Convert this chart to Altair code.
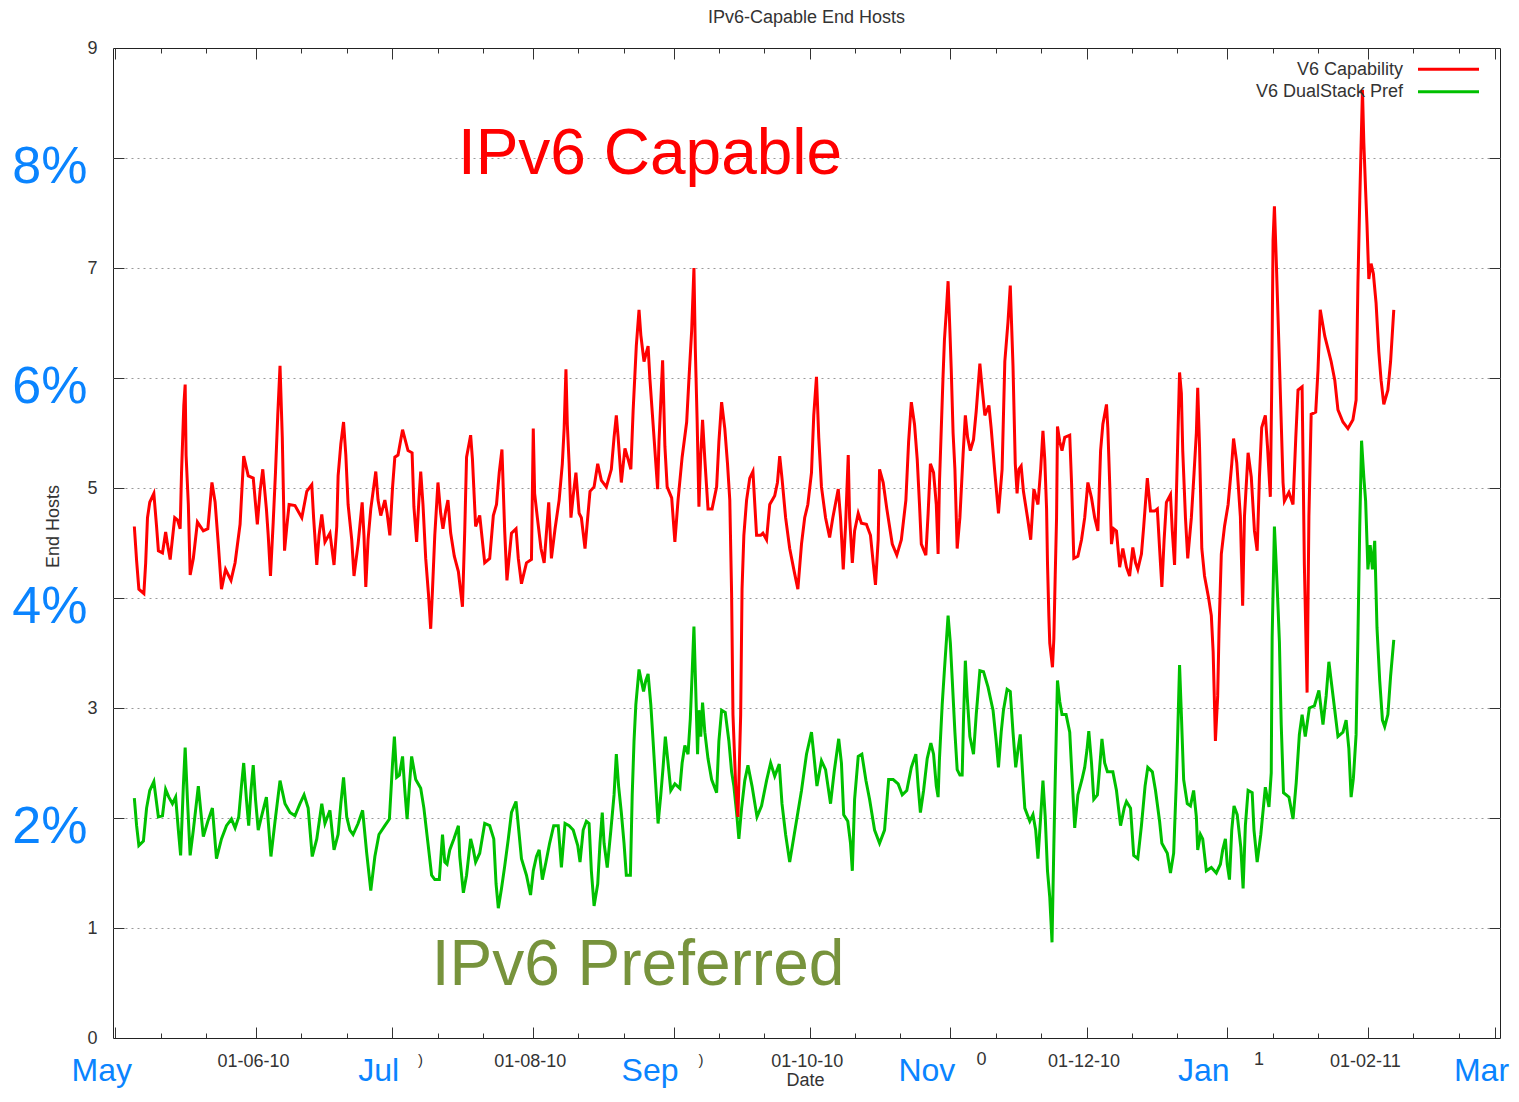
import altair as alt
import pandas as pd

FONT = "Liberation Sans"
INK = "#333333"
RED = "#ff0000"
GREEN = "#00c000"
BLUE = "#0a84ff"
OLIVE = "#77933c"

START = "2010-05-01"          # day 0 of the day offsets below
DAY_MS = 86400000

# ---- V6 Capability (percent of end hosts), day offset from 1 May 2010 ----
red_day = [4.2, 4.7, 5.2, 6.3, 6.7, 7.1, 7.6, 8.5, 9.1, 9.5, 10.4, 11.1, 11.5, 12.1, 13.1, 13.7, 14.3, 14.6, 15.1, 15.4,
           15.6, 16.1, 16.5, 17.2, 18.1, 19.4, 20.4, 21.3, 22.0, 22.7, 23.4, 24.3, 25.5, 26.4, 27.5, 28.3, 29.3, 30.4, 31.3, 31.9,
           32.5, 33.3, 33.7, 34.2, 34.8, 35.3, 35.8, 36.3, 36.8, 37.3, 37.8, 38.3, 39.6, 41.1, 42.2, 43.3, 43.7, 44.4, 44.9, 45.5,
           46.2, 47.3, 48.2, 48.8, 49.1, 49.7, 50.3, 50.8, 51.3, 52.1, 52.6, 53.5, 54.4, 54.8, 55.2, 55.7, 56.3, 57.4, 57.9, 58.5,
           59.4, 59.9, 60.5, 61.1, 61.6, 62.3, 63.3, 64.5, 65.4, 65.8, 66.4, 66.9, 67.3, 67.8, 68.4, 69.0, 69.5, 69.9, 70.4, 71.1,
           71.7, 72.2, 72.8, 73.3, 73.9, 74.7, 75.6, 76.5, 77.0, 77.4, 78.3, 78.7, 79.4, 80.3, 81.4, 82.5, 83.3, 84.0, 84.6, 85.2,
           85.8, 86.3, 87.3, 88.3, 88.8, 89.5, 90.6, 91.7, 92.1, 92.4, 93.0, 93.8, 94.5, 95.5, 96.1, 96.9, 97.8, 98.5, 98.9, 99.3,
           99.6, 100.0, 100.4, 100.9, 101.5, 102.2, 102.7, 103.5, 104.6, 105.5, 106.3, 107.1, 108.2, 109.3, 109.9, 110.4, 110.8, 111.5, 112.3, 113.0,
           113.6, 114.1, 114.8, 115.4, 115.8, 116.5, 117.4, 117.8, 118.5, 119.5, 119.8, 120.6, 121.1, 121.6, 122.6, 123.3, 124.0, 124.9, 125.9, 126.4,
           127.0, 127.5, 127.8, 128.2, 128.6, 129.0, 129.4, 129.9, 130.6, 131.5, 132.5, 133.0, 133.6, 134.3, 134.9, 135.4, 135.8, 136.1, 136.7, 137.2,
           137.8, 138.1, 138.5, 139.1, 139.8, 140.5, 141.3, 142.2, 142.7, 143.5, 144.2, 145.3, 145.9, 146.4, 146.9, 147.7, 148.6, 149.6, 150.4, 151.2,
           151.9, 152.6, 153.4, 153.9, 154.5, 155.0, 155.6, 156.5, 157.4, 158.1, 159.3, 159.8, 160.4, 160.9, 161.5, 161.8, 162.4, 162.9, 163.7, 164.4,
           165.5, 166.4, 167.0, 167.5, 168.1, 168.4, 169.2, 170.0, 171.2, 172.2, 173.2, 174.2, 174.8, 175.4, 176.1, 176.7, 177.2, 177.6, 178.6, 179.1,
           179.6, 180.3, 180.9, 181.3, 181.6, 182.0, 182.4, 182.7, 183.1, 183.5, 183.9, 184.2, 184.6, 185.0, 185.5, 186.1, 186.8, 187.3, 187.8, 188.4,
           189.1, 189.7, 190.5, 191.0, 191.6, 192.5, 193.0, 193.8, 194.6, 195.4, 196.0, 196.7, 197.2, 197.8, 198.3, 198.7, 199.1, 199.6, 200.1, 201.0,
           201.7, 202.4, 203.3, 203.9, 204.4, 204.8, 205.2, 205.4, 205.7, 205.9, 206.5, 206.8, 207.1, 207.4, 207.6, 208.1, 208.6, 209.2, 210.3, 210.7,
           211.2, 212.1, 212.9, 213.6, 214.3, 215.1, 215.8, 216.5, 217.1, 217.6, 218.4, 218.7, 219.1, 219.5, 220.0, 220.6, 221.3, 222.0, 222.8, 223.5,
           224.2, 224.8, 225.3, 226.1, 226.6, 227.4, 228.1, 229.0, 229.6, 230.1, 230.6, 231.1, 231.6, 232.5, 232.9, 233.4, 233.8, 234.1, 234.5, 234.9,
           235.2, 235.8, 236.3, 237.1, 237.7, 238.2, 238.5, 238.9, 239.4, 240.0, 240.9, 241.5, 241.9, 242.4, 242.9, 243.2, 243.7, 244.4, 245.2, 246.0,
           246.4, 247.1, 247.9, 248.4, 248.8, 249.6, 250.3, 251.0, 251.6, 252.1, 252.6, 253.4, 253.9, 254.5, 254.8, 255.1, 255.4, 255.8, 256.5, 257.3,
           257.6, 258.6, 259.5, 260.1, 260.6, 261.5, 262.0, 262.6, 263.0, 263.5, 264.5, 265.0, 265.5, 266.5, 267.9, 268.7, 269.4, 270.5, 271.6, 272.7,
           273.4, 273.8, 274.2, 274.8, 275.1, 275.5, 275.8, 276.2, 276.7, 277.2, 277.8, 278.4, 278.9, 279.5, 280.4, 281.0, 281.7]
red_val = [4.65, 4.34, 4.08, 4.04, 4.32, 4.73, 4.87, 4.95, 4.65, 4.43, 4.41, 4.60, 4.49, 4.35, 4.73, 4.71, 4.63, 5.14, 5.75, 5.94,
           5.30, 4.85, 4.21, 4.36, 4.69, 4.61, 4.63, 5.05, 4.87, 4.49, 4.08, 4.26, 4.16, 4.32, 4.67, 5.29, 5.11, 5.09, 4.67, 4.97,
           5.17, 4.81, 4.57, 4.20, 4.69, 5.14, 5.66, 6.11, 5.46, 4.43, 4.65, 4.85, 4.84, 4.73, 4.97, 5.03, 4.73, 4.30, 4.57, 4.76,
           4.51, 4.59, 4.30, 4.65, 5.11, 5.40, 5.60, 5.30, 4.85, 4.53, 4.20, 4.49, 4.87, 4.57, 4.10, 4.53, 4.81, 5.15, 4.89, 4.75,
           4.89, 4.77, 4.57, 5.01, 5.28, 5.30, 5.53, 5.34, 5.32, 4.83, 4.51, 4.89, 5.15, 4.85, 4.36, 4.04, 3.72, 4.08, 4.57, 5.05,
           4.77, 4.63, 4.79, 4.89, 4.59, 4.38, 4.24, 3.92, 4.61, 5.28, 5.48, 5.26, 4.65, 4.75, 4.32, 4.36, 4.75, 4.85, 5.14, 5.35,
           4.61, 4.16, 4.59, 4.63, 4.36, 4.13, 4.32, 4.35, 5.54, 4.95, 4.73, 4.45, 4.32, 4.87, 4.36, 4.63, 4.89, 5.22, 5.54, 6.08,
           5.58, 5.22, 4.73, 4.93, 5.14, 4.77, 4.73, 4.45, 4.97, 5.01, 5.22, 5.07, 5.01, 5.17, 5.46, 5.66, 5.46, 5.05, 5.36, 5.26,
           5.17, 5.70, 6.29, 6.62, 6.39, 6.15, 6.29, 5.99, 5.58, 4.99, 5.42, 6.16, 5.38, 5.01, 4.91, 4.51, 4.89, 5.28, 5.60, 5.99,
           6.43, 7.00, 6.27, 5.62, 4.83, 5.30, 5.62, 5.26, 4.81, 4.81, 5.01, 5.42, 5.78, 5.54, 5.22, 4.89, 4.04, 2.94, 2.29, 2.01,
           2.94, 4.08, 4.57, 4.89, 5.09, 5.15, 4.57, 4.57, 4.59, 4.53, 4.85, 4.93, 5.05, 5.29, 5.09, 4.73, 4.45, 4.24, 4.08, 4.49,
           4.73, 4.85, 5.14, 5.66, 6.01, 5.46, 5.01, 4.73, 4.55, 4.73, 4.99, 4.73, 4.26, 4.65, 5.30, 4.73, 4.32, 4.61, 4.77, 4.68,
           4.67, 4.57, 4.32, 4.12, 4.53, 5.17, 5.05, 4.81, 4.49, 4.39, 4.53, 4.89, 5.42, 5.78, 5.58, 5.26, 4.85, 4.49, 4.39, 4.77,
           5.22, 5.14, 4.85, 4.40, 5.05, 5.54, 6.03, 6.35, 6.60, 6.88, 6.43, 6.07, 5.50, 5.17, 4.45, 4.73, 5.30, 5.66, 5.46, 5.34,
           5.44, 5.70, 6.13, 5.91, 5.66, 5.75, 5.54, 5.14, 4.77, 5.17, 6.15, 6.51, 6.84, 6.11, 5.22, 4.95, 5.17, 5.20, 4.97, 4.73,
           4.53, 4.99, 4.85, 5.17, 5.52, 5.26, 4.81, 4.32, 3.84, 3.59, 3.37, 3.63, 4.20, 4.73, 5.56, 5.42, 5.34, 5.46, 5.48, 5.05,
           4.36, 4.38, 4.53, 4.73, 5.05, 4.91, 4.73, 4.61, 5.34, 5.58, 5.76, 5.54, 5.05, 4.49, 4.63, 4.61, 4.28, 4.45, 4.28, 4.20,
           4.46, 4.32, 4.26, 4.40, 4.65, 5.09, 4.79, 4.79, 4.81, 4.45, 4.10, 4.53, 4.87, 4.94, 4.61, 4.30, 4.93, 5.42, 6.05, 5.86,
           5.34, 4.73, 4.36, 4.73, 5.14, 5.50, 5.91, 5.38, 4.45, 4.20, 4.00, 3.84, 3.51, 2.70, 3.11, 3.71, 4.40, 4.65, 4.85, 5.22,
           5.45, 5.23, 4.74, 3.93, 4.74, 5.32, 5.10, 4.61, 4.43, 5.10, 5.55, 5.66, 5.36, 4.92, 5.89, 7.25, 7.56, 7.08, 6.15, 5.05,
           4.88, 4.96, 4.85, 5.45, 5.89, 5.92, 4.30, 3.14, 4.74, 5.67, 5.69, 6.07, 6.62, 6.38, 6.15, 5.98, 5.71, 5.60, 5.54, 5.62,
           5.80, 6.86, 7.61, 8.62, 8.14, 7.70, 7.39, 6.90, 7.04, 6.95, 6.68, 6.24, 5.98, 5.76, 5.89, 6.15, 6.62]

# ---- V6 DualStack Pref (percent of end hosts), day offset from 1 May 2010 ----
green_day = [4.2, 4.7, 5.2, 6.2, 6.9, 7.6, 8.5, 9.5, 10.4, 11.1, 11.8, 12.6, 13.3, 13.9, 14.4, 15.0, 15.4, 15.9, 16.5, 17.2,
             18.3, 19.4, 20.4, 21.4, 22.3, 23.4, 24.5, 25.6, 26.4, 27.2, 27.8, 28.3, 28.9, 29.4, 29.9, 30.4, 30.9, 31.5, 32.2, 33.3,
             34.3, 35.2, 36.3, 37.4, 38.5, 39.6, 40.7, 41.6, 42.5, 43.4, 44.4, 45.5, 46.2, 47.3, 48.2, 49.1, 49.7, 50.3, 51.0, 51.7,
             52.4, 53.5, 54.5, 55.4, 56.3, 57.2, 58.1, 59.4, 60.4, 61.1, 61.5, 62.0, 62.6, 63.3, 63.8, 64.3, 64.8, 65.3, 66.2, 67.3,
             68.0, 68.9, 69.7, 70.4, 71.4, 72.1, 72.6, 73.1, 73.7, 74.6, 75.6, 75.9, 76.7, 77.4, 78.3, 78.9, 79.4, 80.3, 81.4, 82.5,
             83.4, 83.9, 84.4, 85.1, 85.8, 86.6, 87.3, 88.3, 88.9, 89.5, 90.6, 91.5, 92.1, 92.8, 93.4, 94.1, 94.9, 95.7, 96.6, 97.6,
             98.3, 99.1, 100.0, 100.9, 101.9, 102.4, 103.1, 103.8, 104.4, 104.9, 105.5, 106.3, 106.8, 107.3, 107.7, 108.4, 109.2, 109.9, 110.4, 110.9,
             111.5, 112.1, 112.6, 113.5, 113.9, 114.3, 114.7, 115.4, 115.9, 116.4, 116.9, 117.4, 118.0, 118.5, 119.1, 119.6, 120.2, 120.7, 121.2, 121.8,
             122.4, 123.3, 124.4, 124.9, 125.5, 126.2, 126.7, 127.1, 127.5, 127.8, 128.3, 128.6, 129.0, 129.4, 129.9, 130.6, 131.4, 132.5, 133.0, 133.6,
             134.4, 135.2, 135.8, 136.3, 136.9, 137.4, 138.0, 138.7, 139.4, 140.3, 141.4, 142.4, 143.5, 144.4, 145.3, 146.3, 146.9, 147.7, 148.6, 149.6,
             150.4, 151.2, 152.3, 153.4, 154.1, 154.6, 155.6, 156.5, 157.6, 158.4, 159.4, 160.0, 160.5, 161.4, 162.0, 162.4, 162.9, 163.7, 164.5, 165.4,
             166.2, 167.3, 168.4, 169.5, 170.4, 171.4, 172.5, 173.4, 174.4, 175.4, 176.4, 176.9, 177.4, 178.1, 178.9, 179.7, 180.3, 180.9, 181.3, 181.6,
             182.2, 182.7, 183.5, 184.0, 184.4, 185.0, 185.5, 186.1, 186.6, 186.9, 187.3, 187.7, 188.3, 189.1, 189.7, 190.5, 191.3, 192.3, 193.4, 194.1,
             194.6, 195.2, 195.7, 196.5, 197.2, 197.8, 198.4, 198.9, 199.4, 199.9, 200.4, 201.5, 202.2, 202.8, 203.3, 203.9, 204.4, 204.9, 205.4, 205.9,
             206.4, 206.8, 207.1, 207.6, 208.1, 208.6, 209.5, 210.3, 210.7, 211.4, 212.1, 213.0, 213.6, 214.1, 214.5, 215.1, 215.6, 216.4, 216.9, 217.4,
             218.0, 218.6, 219.8, 220.6, 221.5, 222.3, 222.8, 223.7, 224.4, 225.3, 226.1, 226.9, 227.5, 228.5, 229.2, 230.1, 230.6, 231.8, 232.5, 233.2,
             233.8, 234.1, 234.5, 234.9, 235.4, 236.2, 236.9, 237.6, 238.2, 238.5, 239.1, 239.6, 240.4, 241.5, 242.6, 243.5, 244.0, 244.6, 245.0, 245.5,
             246.0, 246.5, 247.2, 248.0, 248.5, 249.0, 249.6, 250.5, 250.9, 251.6, 252.4, 253.4, 254.2, 254.7, 254.9, 255.4, 255.8, 256.2, 256.5, 256.9,
             257.4, 258.6, 259.5, 260.2, 260.9, 261.5, 262.2, 263.1, 264.2, 265.2, 266.1, 266.8, 267.4, 267.9, 268.7, 269.4, 270.5, 271.2, 271.8, 272.3,
             272.8, 273.4, 273.8, 274.2, 274.6, 275.1, 275.5, 276.0, 276.5, 277.0, 277.5, 278.0, 278.6, 279.2, 279.7, 280.4, 281.0, 281.7]
green_val = [2.18, 1.93, 1.75, 1.79, 2.09, 2.25, 2.33, 2.01, 2.02, 2.26, 2.19, 2.13, 2.19, 1.89, 1.66, 2.29, 2.64, 2.17, 1.66, 1.89,
             2.29, 1.83, 1.97, 2.09, 1.63, 1.81, 1.93, 1.99, 1.91, 2.01, 2.29, 2.50, 2.17, 1.93, 2.25, 2.48, 2.17, 1.89, 2.01, 2.19,
             1.65, 1.97, 2.34, 2.13, 2.05, 2.02, 2.13, 2.21, 2.09, 1.65, 1.81, 2.13, 1.95, 2.07, 1.71, 1.85, 2.13, 2.37, 2.01, 1.89,
             1.85, 1.95, 2.07, 1.68, 1.34, 1.65, 1.85, 1.93, 1.99, 2.50, 2.74, 2.37, 2.39, 2.56, 2.25, 1.99, 2.29, 2.56, 2.35, 2.27,
             2.09, 1.77, 1.48, 1.44, 1.44, 1.85, 1.60, 1.58, 1.71, 1.81, 1.93, 1.65, 1.32, 1.48, 1.81, 1.71, 1.60, 1.68, 1.95, 1.93,
             1.81, 1.40, 1.18, 1.36, 1.56, 1.81, 2.05, 2.15, 1.89, 1.63, 1.48, 1.30, 1.52, 1.65, 1.71, 1.44, 1.60, 1.77, 1.93, 1.93,
             1.55, 1.95, 1.93, 1.89, 1.75, 1.60, 1.89, 1.97, 1.95, 1.52, 1.20, 1.40, 1.77, 2.05, 1.77, 1.55, 1.89, 2.21, 2.58, 2.29,
             2.05, 1.77, 1.48, 1.48, 2.21, 2.70, 3.03, 3.35, 3.25, 3.15, 3.25, 3.31, 3.03, 2.70, 2.29, 1.95, 2.21, 2.46, 2.74, 2.50,
             2.25, 2.31, 2.27, 2.50, 2.66, 2.58, 2.90, 3.31, 3.74, 3.31, 2.58, 2.98, 2.74, 3.05, 2.78, 2.54, 2.35, 2.23, 2.70, 2.98,
             2.96, 2.70, 2.42, 2.29, 2.05, 1.81, 2.09, 2.34, 2.48, 2.29, 2.01, 2.11, 2.34, 2.50, 2.38, 2.49, 2.13, 1.85, 1.60, 1.85,
             2.05, 2.25, 2.58, 2.78, 2.50, 2.29, 2.52, 2.44, 2.13, 2.42, 2.72, 2.50, 2.03, 1.97, 1.77, 1.52, 2.17, 2.56, 2.58, 2.34,
             2.17, 1.89, 1.77, 1.89, 2.35, 2.35, 2.31, 2.21, 2.25, 2.46, 2.58, 2.29, 2.05, 2.25, 2.54, 2.68, 2.58, 2.29, 2.19, 2.54,
             3.03, 3.35, 3.84, 3.59, 3.27, 2.78, 2.44, 2.39, 2.39, 2.90, 3.43, 3.11, 2.74, 2.58, 2.94, 3.34, 3.33, 3.19, 2.98, 2.70,
             2.46, 2.78, 2.98, 3.17, 3.15, 2.78, 2.46, 2.62, 2.76, 2.42, 2.09, 1.97, 2.03, 1.89, 1.63, 2.01, 2.34, 2.01, 1.52, 1.28,
             0.87, 1.75, 2.34, 3.25, 3.06, 2.94, 2.94, 2.78, 2.46, 1.91, 2.21, 2.35, 2.46, 2.62, 2.79, 2.50, 2.17, 2.21, 2.46, 2.72,
             2.50, 2.42, 2.42, 2.25, 1.93, 2.09, 2.15, 2.09, 1.66, 1.63, 1.93, 2.29, 2.46, 2.42, 2.25, 1.97, 1.77, 1.68, 1.50, 1.68,
             2.34, 2.78, 3.39, 2.94, 2.35, 2.13, 2.11, 2.25, 2.01, 1.71, 1.85, 1.81, 1.52, 1.55, 1.50, 1.58, 1.71, 1.81, 1.58, 1.44,
             1.89, 2.11, 2.03, 1.73, 1.36, 1.93, 2.25, 2.23, 1.89, 1.60, 1.85, 2.28, 2.10, 2.41, 3.64, 4.65, 4.30, 3.91, 3.60, 2.85,
             2.23, 2.19, 1.99, 2.32, 2.76, 2.94, 2.74, 3.00, 3.02, 3.16, 2.85, 3.11, 3.42, 3.25, 2.98, 2.74, 2.78, 2.89, 2.63, 2.19,
             2.36, 2.76, 3.64, 4.65, 5.43, 5.10, 4.88, 4.26, 4.48, 4.26, 4.52, 3.73, 3.25, 2.89, 2.83, 2.94, 3.29, 3.62]

series_names = ["V6 Capability", "V6 DualStack Pref"]
x_range = ["2010-04-30 12:00", "2011-03-02 02:30"]
y_range = [0, 9]
month_starts = pd.date_range("2010-05-01", "2011-03-01", freq="MS")


def ms(ts):
    return int(pd.Timestamp(ts).value // 1_000_000)


start_ms = ms(START)
red_df = pd.DataFrame({"t": [start_ms + round(d * DAY_MS) for d in red_day], "v": red_val})
green_df = pd.DataFrame({"t": [start_ms + round(d * DAY_MS) for d in green_day], "v": green_val})

major_ms = [ms(m) for m in month_starts]
minor_ms = [ms(m + pd.Timedelta(days=k)) for m in month_starts[:-1] for k in (10, 20)]
small_lbl_ms = [ms(m) for m in month_starts if m.month % 2 == 0]
big_a_ms = [ms(m) for m in month_starts if m.month in (5, 7, 3)]
big_b_ms = [ms(m) for m in month_starts if m.month in (9, 11, 1)]

xs = alt.Scale(type="utc", domain=[ms(x_range[0]), ms(x_range[1])], nice=False)
ys = alt.Scale(domain=y_range, nice=False, zero=False)


def tick_axis(orient, values, size):
    return alt.Axis(orient=orient, values=values, labels=False, domain=False, grid=False,
                    ticks=True, tickSize=size, offset=-size, tickColor=INK, tickWidth=1, title="")


def month_axis(values, shift):
    return alt.Axis(orient="bottom", values=values,
                    labelExpr="utcFormat(datum.value, '%b')",
                    ticks=False, tickSize=0, domain=False, grid=False,
                    labelFont=FONT, labelFontSize=32, labelColor=BLUE, labelPadding=17, labelOffset=shift,
                    labelFlush=False, labelOverlap=False, title="")


x_small = alt.Axis(orient="bottom", values=small_lbl_ms,
                   labelExpr="utcFormat(datum.value, '%d-%m-%y')",
                   ticks=False, tickSize=0, domain=False, grid=False,
                   labelFont=FONT, labelFontSize=18, labelColor=INK, labelPadding=14, labelOffset=-3,
                   labelFlush=False, labelOverlap=False,
                   title="Date", titleFont=FONT, titleFontSize=18, titleFontWeight="normal", titleColor=INK,
                   titleX=692, titleY=42, titleBaseline="middle", titleAlign="center")
y_small = alt.Axis(orient="left", values=list(range(10)),
                   labelExpr="datum.value % 2 == 1 || datum.value == 0 ? datum.label : ''",
                   ticks=False, tickSize=0, domain=False,
                   grid=True, gridColor="#9a9a9a", gridDash=[2, 4], gridWidth=1,
                   gridOpacity={"condition": {"test": "datum.value == 0 || datum.value == 9", "value": 0}, "value": 1},
                   labelFont=FONT, labelFontSize=18, labelColor=INK, labelPadding=16, labelOverlap=False,
                   title="End Hosts", titleFont=FONT, titleFontSize=18, titleFontWeight="normal", titleColor=INK,
                   titleX=-60, titleY=478, titleAngle=270, titleBaseline="middle", titleAlign="center")
y_big = alt.Axis(orient="left", values=[2, 4, 6, 8], labelExpr="datum.value + '%'",
                 ticks=False, tickSize=0, domain=False, grid=False,
                 labelFont=FONT, labelFontSize=52, labelColor=BLUE, labelPadding=26, labelOffset=8,
                 labelOverlap=False, title="")

green_line = alt.Chart(green_df).mark_line(color=GREEN, strokeWidth=3).encode(
    x=alt.X("t:T", scale=xs, axis=month_axis(big_a_ms, -14)),
    y=alt.Y("v:Q", scale=ys, axis=y_big))
red_line = alt.Chart(red_df).mark_line(color=RED, strokeWidth=3).encode(
    x=alt.X("t:T", scale=xs, axis=x_small),
    y=alt.Y("v:Q", scale=ys, axis=y_small))

ghost = alt.Chart(red_df).mark_line(strokeOpacity=0)
t1 = ghost.encode(x=alt.X("t:T", scale=xs, axis=tick_axis("bottom", major_ms, 11)),
                  y=alt.Y("v:Q", scale=ys, axis=tick_axis("left", list(range(1, 9)), 11)))
t2 = ghost.encode(x=alt.X("t:T", scale=xs, axis=tick_axis("bottom", minor_ms, 5)),
                  y=alt.Y("v:Q", scale=ys, axis=tick_axis("right", list(range(1, 9)), 11)))
t3 = ghost.encode(x=alt.X("t:T", scale=xs, axis=tick_axis("top", major_ms, 11)),
                  y=alt.Y("v:Q", scale=ys, axis=None))
t4 = ghost.encode(x=alt.X("t:T", scale=xs, axis=tick_axis("top", minor_ms, 5)),
                  y=alt.Y("v:Q", scale=ys, axis=None))
t5 = ghost.encode(x=alt.X("t:T", scale=xs, axis=month_axis(big_b_ms, -24)),
                  y=alt.Y("v:Q", scale=ys, axis=None))

one = alt.Data(values=[{}])


def note(txt, x, y, size, color, align="center", baseline="alphabetic"):
    return alt.Chart(one).mark_text(text=txt, font=FONT, fontSize=size, color=color,
                                    align=align, baseline=baseline).encode(x=alt.value(x), y=alt.value(y))


def swatch(color, y):
    return alt.Chart(one).mark_rule(color=color, strokeWidth=3).encode(
        x=alt.value(1305), x2=alt.value(1366), y=alt.value(y))


legend = [note(series_names[0], 1290, 27, 18, INK, align="right"), swatch(RED, 21.3),
          note(series_names[1], 1290, 49.3, 18, INK, align="right"), swatch(GREEN, 43.7)]
big_notes = [note("IPv6 Capable", 537, 126, 64, RED), note("IPv6 Preferred", 525, 937, 64, OLIVE)]
# visible tails of the date labels that the month overlays hide
tails = [note(")", 307.5, 1012, 15, INK, baseline="middle"), note(")", 588, 1012, 15, INK, baseline="middle"),
         note("0", 868.5, 1012, 18, INK, baseline="middle"), note("1", 1146, 1012, 18, INK, baseline="middle")]

chart = alt.layer(t1, t2, t3, t4, t5, green_line, red_line, *legend, *big_notes, *tails).resolve_axis(
    x="independent", y="independent"
).properties(
    width=1387, height=990,
    padding={"left": 105, "top": 40, "right": 10, "bottom": 52},
    autosize=alt.AutoSizeParams(type="none"),
    title=alt.TitleParams("IPv6-Capable End Hosts", font=FONT, fontSize=18, fontWeight="normal",
                          color=INK, anchor="middle", offset=12),
    background="white",
).configure_view(stroke="#222222", strokeWidth=1)

chart.save("out.html", embed_options={"renderer": "svg", "actions": False})
